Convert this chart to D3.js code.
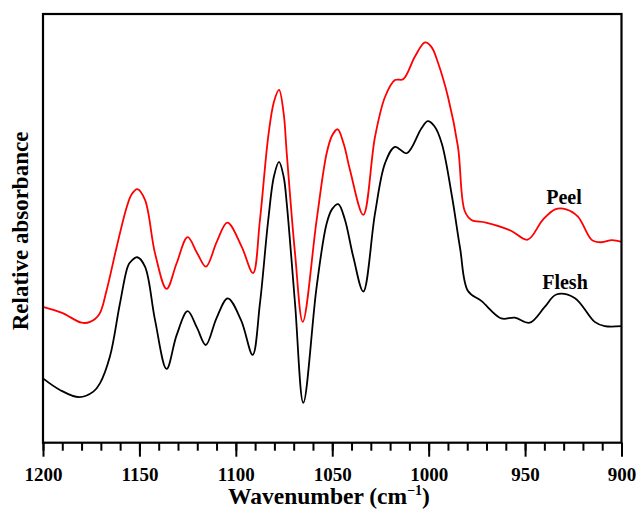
<!DOCTYPE html>
<html>
<head>
<meta charset="utf-8">
<script src="https://cdn.jsdelivr.net/npm/d3@7"></script>
<style>
  html, body { margin: 0; padding: 0; background: #fff; }
  svg { display: block; }
  text { font-family: "Liberation Serif", "Times New Roman", serif; font-weight: bold; fill: #000; }
</style>
</head>
<body>
<svg id="chart" width="638" height="509"></svg>
<script>
// Wavenumbers (cm^-1) and relative absorbance (a.u.)
const peelWavenumber = [1200, 1190.1, 1179.9, 1175.6, 1170.8, 1167.0, 1161.8, 1156.6, 1154.0, 1151.1, 1147.1, 1141.9, 1135.9, 1130.7, 1125.0, 1120.1, 1115.5, 1109.9, 1104.4, 1097.0, 1091.1, 1087.5, 1083.2, 1080.2, 1077.6, 1075.2, 1073.6, 1069.3, 1065.3, 1058.1, 1052.9, 1050.0, 1047.2, 1044.0, 1040.8, 1033.9, 1027.8, 1022.6, 1017.5, 1013.2, 1007.1, 1001.9, 998.5, 995.2, 990.0, 984.8, 981.3, 977.8, 970.3, 957.3, 948.7, 940.9, 934.4, 928.7, 922.6, 915.3, 910.3, 905.0, 900];
const peelAbsorbance = [0.318, 0.304, 0.281, 0.283, 0.301, 0.357, 0.458, 0.551, 0.581, 0.593, 0.568, 0.443, 0.360, 0.420, 0.481, 0.444, 0.412, 0.470, 0.515, 0.459, 0.397, 0.521, 0.716, 0.798, 0.825, 0.770, 0.677, 0.443, 0.283, 0.521, 0.677, 0.719, 0.733, 0.698, 0.638, 0.533, 0.716, 0.809, 0.848, 0.850, 0.903, 0.936, 0.925, 0.889, 0.809, 0.692, 0.542, 0.521, 0.515, 0.496, 0.475, 0.521, 0.546, 0.546, 0.529, 0.474, 0.469, 0.474, 0.470];

const fleshWavenumber = [1200, 1191.2, 1181.2, 1173.9, 1170.4, 1165.3, 1160.1, 1155.9, 1154.0, 1151.1, 1147.1, 1141.9, 1135.9, 1130.7, 1125.0, 1120.1, 1115.6, 1110.0, 1104.2, 1097.3, 1091.3, 1087.5, 1083.2, 1080.2, 1077.6, 1075.2, 1073.6, 1069.3, 1065.0, 1058.1, 1052.9, 1050.0, 1046.9, 1043.5, 1039.1, 1033.9, 1027.8, 1022.6, 1017.5, 1011.4, 1003.8, 1000.5, 997.0, 993.2, 987.9, 983.7, 979.6, 972.7, 962.3, 955.4, 947.6, 939.8, 933.8, 924.3, 913.9, 908.7, 900];
const fleshAbsorbance = [0.151, 0.124, 0.107, 0.120, 0.140, 0.202, 0.326, 0.414, 0.426, 0.434, 0.412, 0.287, 0.173, 0.252, 0.308, 0.269, 0.229, 0.292, 0.338, 0.287, 0.206, 0.326, 0.521, 0.624, 0.657, 0.622, 0.560, 0.326, 0.094, 0.365, 0.513, 0.547, 0.558, 0.523, 0.435, 0.354, 0.537, 0.654, 0.692, 0.677, 0.735, 0.752, 0.740, 0.700, 0.576, 0.455, 0.355, 0.332, 0.291, 0.293, 0.281, 0.318, 0.347, 0.339, 0.283, 0.273, 0.273];

const seriesNames = ["Peel", "Flesh"];
const seriesColors = ["#ff0000", "#000000"];
const majorTicks = [1200, 1150, 1100, 1050, 1000, 950, 900];
const minorTicks = d3.range(1200, 899, -10);

const svg = d3.select("#chart");
const plotLeft = 43, plotRight = 621.5, plotTop = 14, plotBottom = 442.7;

const x = d3.scaleLinear().domain([1200, 900]).range([plotLeft, plotRight]);
const y = d3.scaleLinear().domain([0, 1]).range([443, 15]);

const series = [
  { name: seriesNames[0], color: seriesColors[0], data: peelWavenumber.map((w, i) => [w, peelAbsorbance[i]]) },
  { name: seriesNames[1], color: seriesColors[1], data: fleshWavenumber.map((w, i) => [w, fleshAbsorbance[i]]) }
];

const line = d3.line().x(d => x(d[0])).y(d => y(d[1])).curve(d3.curveCatmullRom.alpha(0.5));

svg.append("g").selectAll("path").data(series).join("path")
  .attr("d", d => line(d.data))
  .attr("fill", "none")
  .attr("stroke", d => d.color)
  .attr("stroke-width", 1.8)
  .attr("stroke-linejoin", "round");

// Minor ticks
const minorAxis = d3.axisBottom(x).tickValues(minorTicks).tickSize(8).tickFormat("");
const gMinor = svg.append("g").attr("transform", `translate(0,${plotBottom})`).call(minorAxis);
gMinor.select(".domain").remove();
gMinor.selectAll("line").attr("stroke", "#000").attr("stroke-width", 2);

// Major ticks
const majorAxis = d3.axisBottom(x).tickValues(majorTicks).tickSize(14).tickPadding(10.5).tickFormat(d3.format("d"));
const gMajor = svg.append("g").attr("transform", `translate(0,${plotBottom})`).call(majorAxis);
gMajor.select(".domain").remove();
gMajor.selectAll("line").attr("stroke", "#000").attr("stroke-width", 2);
gMajor.selectAll("text")
  .attr("font-family", "'Liberation Serif', 'Times New Roman', serif")
  .attr("font-weight", "bold")
  .attr("font-size", 19)
  .attr("fill", "#000");

// Frame
svg.append("rect")
  .attr("x", plotLeft).attr("y", plotTop)
  .attr("width", plotRight - plotLeft).attr("height", plotBottom - plotTop)
  .attr("fill", "none").attr("stroke", "#000").attr("stroke-width", 2.2);

// Axis titles
const xt = svg.append("text")
  .attr("x", 329).attr("y", 504)
  .attr("text-anchor", "middle")
  .attr("font-size", 23.5);
xt.append("tspan").text("Wavenumber (cm");
xt.append("tspan").attr("font-size", 14).attr("dy", -9).text("\u22121");
xt.append("tspan").attr("dy", 9).text(")");

svg.append("text")
  .attr("transform", "translate(28,231) rotate(-90)")
  .attr("text-anchor", "middle")
  .attr("font-size", 23)
  .text("Relative absorbance");

// Series labels
svg.append("text").attr("x", 564).attr("y", 204).attr("text-anchor", "middle").attr("font-size", 20).text(seriesNames[0]);
svg.append("text").attr("x", 565).attr("y", 289).attr("text-anchor", "middle").attr("font-size", 20).text(seriesNames[1]);
</script>
</body>
</html>
